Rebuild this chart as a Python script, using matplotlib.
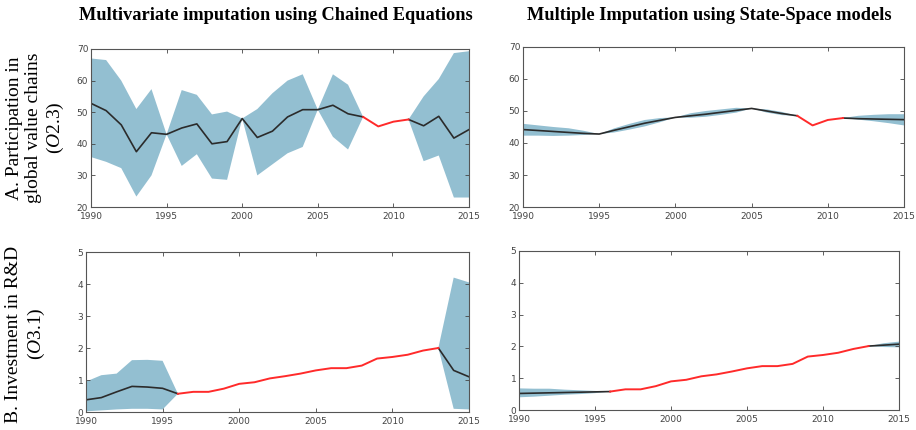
import numpy as np
import matplotlib.pyplot as plt

plt.rcParams['mathtext.fontset'] = 'custom'
plt.rcParams['mathtext.it'] = 'Liberation Serif:italic'
plt.rcParams['mathtext.rm'] = 'Liberation Serif'

years = np.arange(1990, 2016)

# Panel A - MICE (observed/imputed mean, band)
gvc_mice = [52.8, 50.5, 46.0, 37.5, 43.5, 43.0, 45.0, 46.3, 40.0, 40.7,
            48.0, 42.0, 44.0, 48.5, 50.8, 50.8, 52.2, 49.5, 48.5, 45.5,
            47.0, 47.7, 45.7, 48.7, 41.8, 44.5]
gvc_mice_hi = [67.0, 66.5, 60.0, 51.0, 57.3, 43.0, 57.0, 55.5, 49.3, 50.2,
               48.0, 51.0, 56.0, 60.0, 62.0, 50.8, 62.0, 58.7, 48.5, np.nan,
               np.nan, 47.7, 55.0, 60.5, 68.7, 69.3]
gvc_mice_lo = [35.8, 34.3, 32.3, 23.3, 30.0, 43.0, 33.0, 36.7, 29.0, 28.6,
               48.0, 30.0, 33.5, 37.0, 39.0, 50.8, 42.2, 38.2, 48.5, np.nan,
               np.nan, 47.7, 34.5, 36.3, 23.0, 23.0]

# Panel A - state-space
gvc_ss = [44.2, 43.9, 43.6, 43.3, 43.0, 42.8, 44.0, 45.1, 46.2, 47.1,
          48.0, 48.5, 49.0, 49.6, 50.2, 50.8, 50.0, 49.2, 48.5, 45.5,
          47.2, 47.8, 47.6, 47.5, 47.4, 47.3]
gvc_ss_hi = [46.0, 45.5, 45.0, 44.6, 43.8, 42.8, 44.6, 46.0, 47.2, 47.8,
             48.0, 49.3, 50.0, 50.5, 51.0, 50.8, 50.5, 49.7, 48.5, np.nan,
             np.nan, 47.8, 48.5, 48.8, 49.0, 49.0]
gvc_ss_lo = [42.3, 42.3, 42.2, 42.3, 42.5, 42.8, 43.3, 44.2, 45.2, 46.5,
             48.0, 47.9, 48.2, 48.8, 49.5, 50.8, 49.5, 48.7, 48.5, np.nan,
             np.nan, 47.8, 47.3, 46.8, 46.2, 45.5]
gvc_missing = (2008, 2011)

# Panel B - MICE
rd_mice = [0.38, 0.45, 0.63, 0.80, 0.78, 0.74, 0.57, 0.63, 0.63, 0.73,
           0.88, 0.93, 1.05, 1.12, 1.20, 1.30, 1.37, 1.37, 1.45, 1.67,
           1.72, 1.79, 1.92, 2.00, 1.30, 1.10]
rd_mice_hi = [0.95, 1.15, 1.20, 1.62, 1.63, 1.60, 0.57] + [np.nan] * 16 + [2.00, 4.20, 4.05]
rd_mice_lo = [0.02, 0.05, 0.08, 0.10, 0.10, 0.08, 0.57] + [np.nan] * 16 + [2.00, 0.10, 0.08]

# Panel B - state-space
rd_ss = [0.52, 0.53, 0.54, 0.55, 0.56, 0.57, 0.58, 0.65, 0.65, 0.75,
         0.90, 0.95, 1.06, 1.12, 1.21, 1.31, 1.38, 1.38, 1.45, 1.68,
         1.73, 1.80, 1.92, 2.01, 2.04, 2.07]
rd_ss_hi = [0.68, 0.67, 0.67, 0.64, 0.62, 0.60, 0.58] + [np.nan] * 16 + [2.01, 2.10, 2.15]
rd_ss_lo = [0.40, 0.42, 0.45, 0.48, 0.50, 0.53, 0.58] + [np.nan] * 16 + [2.01, 1.98, 1.97]
rd_missing = (1996, 2013)

band_col = '#93bfd1'


def panel(ax, mean, hi, lo, missing, ylim, yticks):
    mean = np.array(mean)
    ax.fill_between(years, lo, hi, color=band_col, lw=0)
    red = (years >= missing[0]) & (years <= missing[1])
    blk1 = years <= missing[0]
    blk2 = years >= missing[1]
    ax.plot(years[blk1], mean[blk1], color='#2b2b2b', lw=1.2)
    ax.plot(years[blk2], mean[blk2], color='#2b2b2b', lw=1.2)
    ax.plot(years[red], mean[red], color='#ff2a2a', lw=1.4)
    ax.set_xlim(1990, 2015)
    ax.set_ylim(*ylim)
    ax.set_xticks(range(1990, 2016, 5))
    ax.set_yticks(yticks)
    ax.tick_params(direction='in', top=True, right=True, labelsize=6.5,
                   labelcolor='#444444', color='#444444', length=3, width=0.6, pad=2)
    ax.tick_params(axis='x', pad=3.5)
    for s in ax.spines.values():
        s.set_color('#555555')
        s.set_linewidth(0.8)


fig = plt.figure(figsize=(9.16, 4.3), dpi=100)
ax1 = fig.add_axes([91 / 916, 1 - 207 / 430, 378 / 916, 158 / 430])
ax2 = fig.add_axes([523 / 916, 1 - 207 / 430, 381 / 916, 160 / 430])
ax3 = fig.add_axes([86 / 916, 1 - 412 / 430, 383 / 916, 160 / 430])
ax4 = fig.add_axes([519 / 916, 1 - 410 / 430, 380 / 916, 159 / 430])

panel(ax1, gvc_mice, gvc_mice_hi, gvc_mice_lo, gvc_missing, (20, 70), range(20, 71, 10))
panel(ax2, gvc_ss, gvc_ss_hi, gvc_ss_lo, gvc_missing, (20, 70), range(20, 71, 10))
panel(ax3, rd_mice, rd_mice_hi, rd_mice_lo, rd_missing, (0, 5), range(0, 6))
panel(ax4, rd_ss, rd_ss_hi, rd_ss_lo, rd_missing, (0, 5), range(0, 6))

serif = 'Liberation Serif'
fig.text(276 / 916, 1 - 15 / 430, 'Multivariate imputation using Chained Equations',
         ha='center', va='center', family=serif, weight='bold', fontsize=13.2)
fig.text(709 / 916, 1 - 15 / 430, 'Multiple Imputation using State-Space models',
         ha='center', va='center', family=serif, weight='bold', fontsize=13.2)

fig.text(36 / 916, 1 - 128 / 430, 'A. Participation in\nglobal value chains\n($\\mathit{O2.3}$)',
         rotation=90, ha='center', va='center', family=serif, fontsize=14,
         multialignment='center', linespacing=1.2)
fig.text(26 / 916, 1 - 334 / 430, 'B. Investment in R&D\n($\\mathit{O3.1}$)',
         rotation=90, ha='center', va='center', family=serif, fontsize=14,
         multialignment='center', linespacing=1.2)

fig.savefig('out.png', dpi=100)
